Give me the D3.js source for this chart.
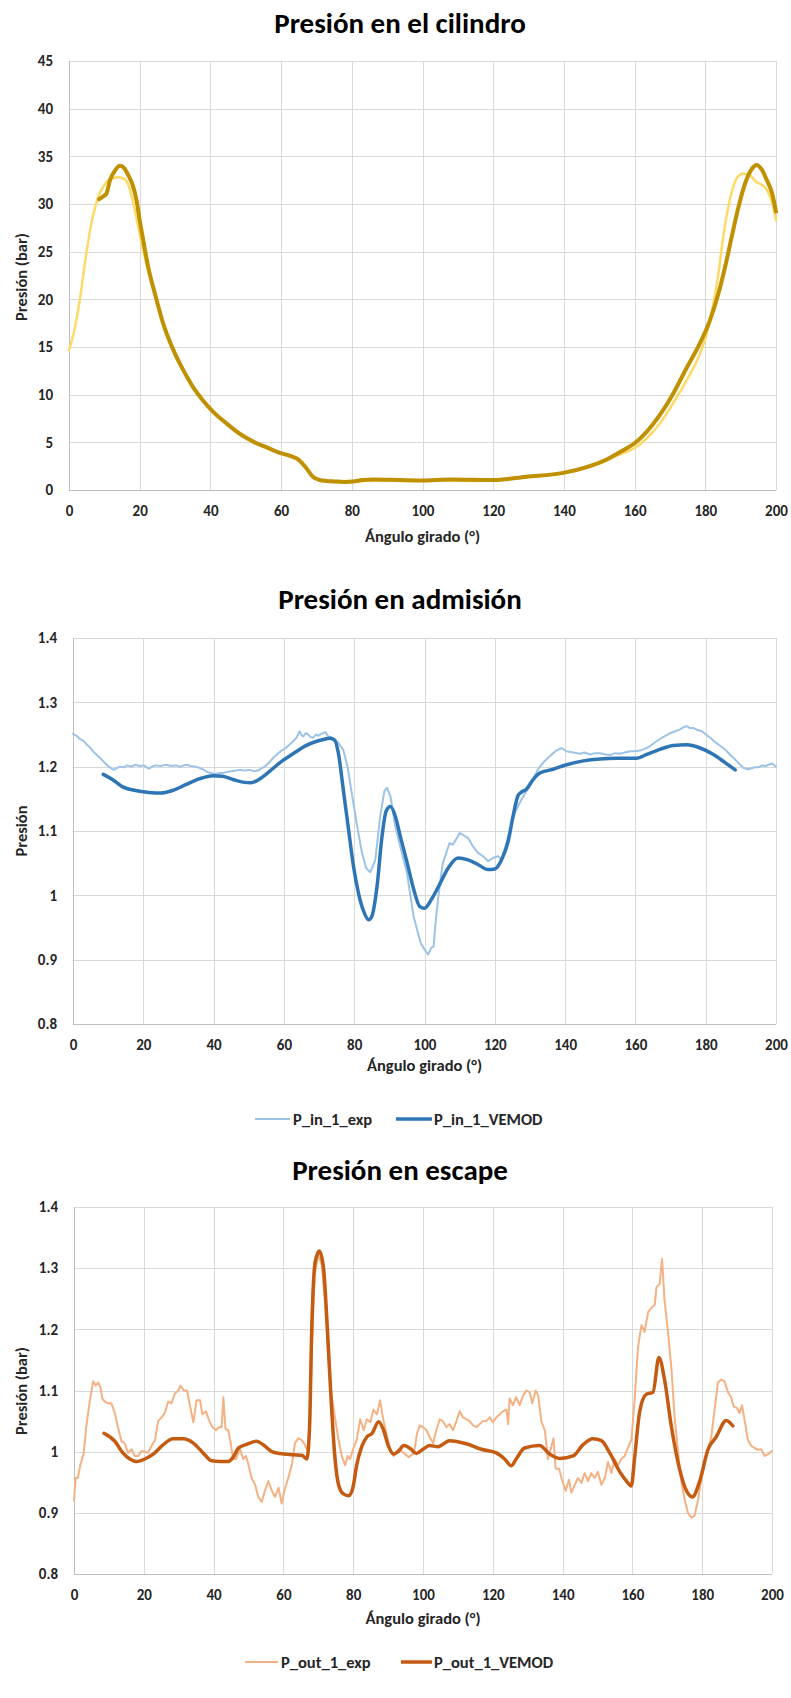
<!DOCTYPE html>
<html>
<head>
<meta charset="utf-8">
<script src="https://cdn.jsdelivr.net/npm/d3@7"></script>
<style>
  html, body { margin: 0; padding: 0; background: #ffffff; }
  svg { display: block; }
</style>
</head>
<body>
<svg id="fig" width="791" height="1698"></svg>
<script>
// ---- Cylinder pressure (bar) vs crank angle (°) ----
const cylExp = [
  [0,14.7],[0.8,15.7],[1.7,17.1],[2.6,18.9],[3.6,21.3],[4.5,23.8],[5.5,26.2],[6.4,28.1],[7.3,29.5],[8.3,30.8],
  [9.7,31.8],[11.1,32.5],[12.5,32.7],[13.9,32.8],[15.3,32.7],[16.8,32.0],[17.7,30.9],[18.6,29.4],[19.6,27.6],[20.5,25.9],
  [22,23.6],[24,20.8],[26.5,17.6],[29.5,14.6],[32.3,12.5],[35,10.8],[38,9.3],[41,8.1],[44.5,7.0],[48.3,5.9],
  [52,5.1],[55.8,4.4],[59.6,3.9],[62.4,3.5],[65.2,3.1],[67,2.3],[69,1.4],[71,1.0],[73,0.9],[76,0.8],
  [79,0.8],[82,0.9],[85,1.0],[90,1.0],[95,0.95],[100,0.95],[105,1.0],[110,1.0],[115,0.95],[120,1.0],
  [125,1.15],[130,1.35],[135,1.55],[140,1.75],[145,2.15],[150,2.75],[155,3.6],[160,4.4],[163.4,5.4],[167.2,7.0],
  [170.9,9.1],[174.7,11.5],[178.5,14.3],[180.4,16.4],[182.3,19.6],[183.7,22.7],[185.1,26.6],[186.5,29.7],[187.9,31.8],[189.3,32.9],
  [190.8,33.2],[192.6,33.0],[194.5,32.3],[196,32.0],[197.4,31.5],[198.9,30.1],[200,28.3]
];
const cylVemod = [
  [8.5,30.5],[9.7,30.8],[10.6,31.1],[11.6,32.5],[13,33.5],[14.4,34.0],[15.5,33.8],[16.8,33.0],[18,32.0],[19.1,30.4],
  [20,28.3],[21,26.2],[22.4,23.4],[24.3,20.6],[26.6,17.5],[29.5,14.7],[32.3,12.6],[35.1,10.8],[37.9,9.4],[40.8,8.2],
  [44.5,7.0],[48.3,5.9],[52,5.1],[55.8,4.5],[59.6,3.9],[62.4,3.6],[65.2,3.1],[67.1,2.3],[69,1.4],[70.9,1.05],
  [72.8,0.95],[75,0.9],[78,0.85],[80.3,0.9],[83.1,1.05],[86,1.1],[93.5,1.05],[100,1.0],[107.7,1.1],[120,1.05],
  [129.4,1.4],[139.8,1.8],[146.4,2.4],[152.1,3.2],[156.9,4.2],[160,4.9],[163.4,6.1],[167.2,7.9],[170.9,10.1],[174.7,12.8],
  [178.5,15.4],[181.3,17.8],[183.7,20.6],[185.6,23.4],[187.5,26.6],[189.4,29.7],[191.3,32.2],[193.2,33.7],[194.5,34.1],[196,33.6],
  [197.4,32.5],[198.9,31.1],[200,29.2]
];

// ---- Intake pressure ----
const inExp = [
  [0,1.251],[1,1.248],[2,1.243],[3,1.240],[4,1.234],[5,1.229],[6,1.222],[7,1.217],[8,1.212],[9,1.206],
  [10,1.201],[11,1.197],[11.6,1.195],[12.5,1.198],[13.5,1.200],[14.5,1.199],[15.4,1.202],[16.5,1.200],[17.8,1.203],[19,1.201],
  [20.2,1.202],[21,1.199],[21.6,1.197],[22.5,1.200],[23.5,1.202],[25,1.201],[26.4,1.203],[28,1.201],[29.3,1.202],[30.5,1.200],
  [32.1,1.203],[33.5,1.201],[35,1.200],[36,1.198],[36.9,1.196],[38,1.192],[38.8,1.191],[40,1.189],[40.7,1.189],[42,1.190],
  [42.6,1.190],[44,1.192],[45,1.193],[46.5,1.194],[47.4,1.195],[49,1.194],[50.2,1.195],[51.5,1.193],[52.6,1.194],[53.5,1.197],
  [54.5,1.200],[55.7,1.206],[56.9,1.213],[58,1.219],[59.3,1.225],[60.5,1.229],[61.7,1.235],[62.7,1.240],[63.6,1.245],[64,1.250],
  [64.5,1.255],[65,1.249],[65.5,1.247],[66.2,1.252],[66.9,1.250],[67.6,1.246],[68.4,1.245],[69.1,1.250],[69.8,1.248],[70.5,1.251],
  [71.2,1.252],[71.8,1.254],[72.6,1.247],[73.3,1.246],[74.1,1.243],[75.5,1.237],[76.9,1.226],[78.1,1.200],[79.3,1.159],[80.7,1.112],
  [82.2,1.066],[83.4,1.042],[84.6,1.036],[86,1.055],[87.4,1.123],[88.6,1.162],[89.3,1.167],[90.3,1.154],[91.7,1.107],[93.1,1.076],
  [95,1.035],[96.9,0.967],[98.9,0.926],[100,0.916],[101,0.908],[101.9,0.918],[102.6,0.921],[103.3,0.967],[104.3,1.014],[105.2,1.050],
  [106.2,1.066],[107.1,1.081],[108.1,1.079],[109,1.087],[110,1.097],[110.9,1.094],[112.4,1.089],[113.8,1.076],[115.2,1.066],[116.6,1.061],
  [118.1,1.053],[119.5,1.058],[120.9,1.061],[121.9,1.055],[123.3,1.081],[124.7,1.112],[126.1,1.133],[127.6,1.149],[129,1.162],[130.9,1.180],
  [132.3,1.196],[133.7,1.206],[135.6,1.216],[137.5,1.225],[139,1.229],[140.4,1.224],[142.3,1.222],[144.2,1.220],[145.5,1.222],[147.1,1.219],
  [148.5,1.221],[149.9,1.221],[151.5,1.219],[152.8,1.218],[154.2,1.221],[155.6,1.220],[157,1.222],[158.5,1.224],[160,1.224],[161.3,1.225],
  [162.8,1.228],[164.2,1.232],[165.6,1.238],[167,1.243],[168.5,1.248],[169.9,1.252],[171.3,1.255],[172.7,1.258],[173.6,1.261],[174.6,1.263],
  [175.5,1.260],[176.5,1.260],[177.7,1.257],[178.9,1.255],[180.1,1.250],[181.3,1.245],[182.5,1.239],[183.7,1.234],[185,1.229],[186,1.224],
  [187.2,1.217],[188.4,1.211],[189.6,1.204],[190.8,1.198],[192.2,1.196],[193.2,1.198],[194.1,1.199],[195,1.199],[196,1.202],[197,1.201],
  [197.9,1.203],[198.9,1.205],[200,1.200]
];
const inVemod = [
  [8.6,1.188],[11.2,1.180],[14,1.169],[17.8,1.163],[21.6,1.160],[25,1.159],[28.3,1.163],[32.1,1.172],[35.9,1.181],[39.8,1.186],
  [42.6,1.185],[45.5,1.180],[48.3,1.176],[50.7,1.175],[53.1,1.181],[56,1.193],[58.8,1.206],[62.6,1.220],[66.4,1.233],[70.3,1.241],
  [73.1,1.244],[74.5,1.241],[75.5,1.221],[76.9,1.164],[78.4,1.102],[79.8,1.045],[81.2,1.004],[82.7,0.975],[84.1,0.962],[85,0.967],
  [86.5,1.014],[87.9,1.091],[89.1,1.131],[90.3,1.138],[91.7,1.123],[93.1,1.092],[95,1.052],[96.9,1.010],[98.6,0.983],[100,0.980],
  [101.9,0.993],[104.3,1.017],[106.7,1.042],[109.5,1.058],[112.4,1.055],[115.2,1.048],[118.1,1.040],[120,1.041],[121.9,1.055],[123.8,1.084],
  [125.2,1.123],[126.6,1.155],[127.5,1.160],[129,1.165],[130.9,1.180],[132.8,1.190],[136.6,1.196],[140.4,1.203],[145.2,1.209],[149.9,1.212],
  [154.7,1.213],[160.4,1.213],[163.2,1.219],[167,1.227],[170.8,1.233],[174.6,1.234],[178.4,1.229],[182.2,1.219],[185.6,1.206],[188.4,1.195]
];

// ---- Exhaust pressure (bar) ----
const outExp = [
  [0,0.920],[0.5,0.957],[1.1,0.957],[1.8,0.978],[2.8,0.998],[3.5,1.040],[4.5,1.082],[5.5,1.115],[6.2,1.108],[6.9,1.113],
  [7.6,1.105],[8.1,1.087],[8.8,1.082],[9.8,1.079],[10.7,1.079],[11.7,1.063],[12.6,1.040],[13.6,1.017],[14.5,1.014],[15.5,0.998],
  [16.5,1.004],[17.4,0.993],[18.4,0.993],[19.3,1.001],[20.3,1.000],[21.2,0.998],[22.2,1.009],[23.2,1.019],[24.1,1.050],[25.1,1.056],
  [26,1.063],[27,1.082],[27.9,1.079],[28.9,1.095],[29.9,1.100],[30.5,1.108],[31.5,1.100],[32.4,1.100],[33.2,1.076],[34.2,1.048],
  [35.1,1.084],[36.1,1.084],[36.8,1.061],[37.8,1.066],[38.8,1.050],[39.7,1.040],[40.7,1.035],[41.6,1.040],[42.3,1.040],[42.8,1.089],
  [43.4,1.037],[44.2,1.035],[44.9,1.014],[45.6,0.988],[46.4,0.988],[47.6,1.004],[48.5,0.988],[49.3,0.993],[50,0.978],[50.9,0.957],
  [51.9,0.946],[52.8,0.926],[53.8,0.918],[54.7,0.936],[55.7,0.952],[56.7,0.936],[57.6,0.926],[58.6,0.941],[59.5,0.915],[60.5,0.941],
  [61.4,0.957],[62.4,0.978],[63.3,1.014],[64.3,1.022],[65.2,1.019],[66.2,1.011],[67,1.000],[67.6,1.050],[68.2,1.180],[69,1.290],
  [70,1.322],[71,1.305],[72,1.240],[72.8,1.160],[73.6,1.100],[74.5,1.066],[75.8,1.019],[76.7,0.993],[77.7,0.978],[78.4,0.993],
  [79.1,0.988],[80.1,1.006],[81,1.019],[82,1.053],[83,1.035],[83.9,1.053],[84.9,1.048],[85.8,1.069],[86.8,1.061],[87.7,1.084],
  [88.5,1.056],[89.5,1.030],[90.6,1.004],[91.6,0.993],[93,1.004],[94.5,0.998],[95.9,0.991],[97.4,0.998],[98.3,1.030],[99.1,1.043],
  [100,1.040],[101,1.035],[101.9,1.024],[102.9,1.014],[103.8,1.035],[104.8,1.053],[105.7,1.050],[106.7,1.040],[107.6,1.045],[108.6,1.035],
  [109.6,1.050],[110.5,1.066],[111.5,1.056],[112.4,1.053],[113.4,1.050],[114.3,1.043],[115.3,1.040],[116.2,1.045],[117.2,1.050],[118.1,1.050],
  [119.1,1.056],[120.1,1.048],[121,1.056],[122,1.061],[122.9,1.066],[123.9,1.069],[124.4,1.045],[124.8,1.087],[125.8,1.076],[126.7,1.089],
  [127.7,1.076],[128.7,1.092],[129.6,1.100],[130.6,1.097],[131.3,1.079],[132.3,1.100],[133,1.092],[133.9,1.050],[134.9,1.035],[135.8,0.988],
  [136.8,1.009],[137.4,1.022],[138,0.972],[139,0.972],[139.9,0.952],[140.9,0.936],[141.8,0.954],[142.5,0.933],[143.5,0.946],[144.4,0.957],
  [145.4,0.949],[146.3,0.965],[147.3,0.952],[148.2,0.965],[149.2,0.957],[150.1,0.967],[151.1,0.946],[152.1,0.957],[153,0.983],[154,0.965],
  [154.9,0.988],[155.9,0.978],[156.8,0.988],[157.8,0.993],[158.7,1.006],[159.7,1.019],[160.6,1.082],[161.6,1.170],[162.6,1.207],[163.5,1.196],
  [164.5,1.228],[165.4,1.235],[166.4,1.240],[166.9,1.269],[167.8,1.274],[168.5,1.315],[169.2,1.248],[170.2,1.196],[171.2,1.134],[172.1,1.056],
  [173.1,0.998],[174,0.952],[175,0.921],[175.9,0.900],[176.9,0.892],[177.8,0.895],[178.8,0.921],[179.8,0.957],[180.7,0.983],[181.7,1.004],
  [182.6,1.024],[183.6,1.071],[184.5,1.113],[185.5,1.118],[186.4,1.115],[187.4,1.097],[188.3,1.089],[189,1.074],[190,1.071],[190.7,1.063],
  [191.4,1.076],[192.2,1.050],[193.1,1.019],[194.1,1.009],[195,1.006],[196,1.003],[196.9,1.004],[197.9,0.993],[198.9,0.996],[200,1.001]
];
const outVemod = [
  [8.6,1.030],[11.7,1.017],[14,0.998],[16,0.988],[17.9,0.984],[20.3,0.988],[22.7,0.996],[25.5,1.011],[28.4,1.021],[31.3,1.021],
  [34.2,1.014],[37,0.998],[39.4,0.985],[41.8,0.984],[44.2,0.984],[45.6,0.991],[47.1,1.006],[49.5,1.012],[52.3,1.017],[54.3,1.011],
  [56.7,1.000],[59,0.997],[62.9,0.995],[65.3,0.994],[66.7,0.988],[67.5,1.040],[68.1,1.196],[69.1,1.310],[70.3,1.328],[71.5,1.300],
  [72.4,1.222],[73.6,1.092],[74.8,0.988],[75.8,0.946],[77.2,0.931],[78.7,0.928],[79.9,0.941],[81,0.978],[82.5,1.009],[83.9,1.024],
  [85.4,1.030],[87.3,1.049],[88.7,1.035],[90.1,1.009],[91.6,0.996],[93,1.001],[94.5,1.010],[96.4,1.005],[98.1,0.997],[100,1.004],
  [101.9,1.010],[104.3,1.008],[107.6,1.018],[112.4,1.013],[116.7,1.004],[121,0.998],[123.4,0.988],[125.3,0.977],[126.7,0.988],[129.1,1.006],
  [133.4,1.010],[136.3,0.996],[139.2,0.989],[143,0.993],[145.8,1.011],[148.7,1.021],[151.1,1.018],[153.5,0.998],[156.4,0.967],[158.3,0.952],
  [159.7,0.944],[160.6,0.988],[162.1,1.066],[164,1.094],[165.9,1.097],[167.6,1.154],[169.2,1.118],[171.2,1.040],[173.5,0.972],[175.5,0.936],
  [177.2,0.926],[179.3,0.952],[181.7,1.004],[184,1.024],[186.9,1.051],[188.8,1.042]
];

// shared axis ticks
const angleTicks = [0, 20, 40, 60, 80, 100, 120, 140, 160, 180, 200];
const cylTicks = [0, 5, 10, 15, 20, 25, 30, 35, 40, 45];
const pipeTicks = [0.8, 0.9, 1.0, 1.1, 1.2, 1.3, 1.4];

const FONT = "Carlito, Lato, 'Open Sans', sans-serif";
const TEXT = "#262626";
const svg = d3.select("#fig");

const charts = [
  {
    title: "Presión en el cilindro", titleY: 23,
    yLabel: "Presión (bar)", yLabelCy: 277,
    left: 69, right: 776, top: 61, bottom: 490,
    yDomain: [0, 45], yTicks: cylTicks, xTitleY: 536,
    series: [
      { name: "P_cyl_exp", data: cylExp, color: "#FFD966", width: 2.5, curve: d3.curveMonotoneX },
      { name: "P_cyl_VEMOD", data: cylVemod, color: "#BF9000", width: 4, curve: d3.curveMonotoneX }
    ],
    legend: null
  },
  {
    title: "Presión en admisión", titleY: 599,
    yLabel: "Presión", yLabelCy: 831,
    left: 73, right: 776, top: 638, bottom: 1024,
    yDomain: [0.8, 1.4], yTicks: pipeTicks, xTitleY: 1065,
    series: [
      { name: "P_in_1_exp", data: inExp, color: "#9DC3E6", width: 2, curve: d3.curveLinear },
      { name: "P_in_1_VEMOD", data: inVemod, color: "#2E75B6", width: 3.5, curve: d3.curveMonotoneX }
    ],
    legend: { y: 1119, items: [[255, 290, 293], [396, 432, 434]] }
  },
  {
    title: "Presión en escape", titleY: 1170,
    yLabel: "Presión (bar)", yLabelCy: 1391,
    left: 74, right: 772, top: 1207, bottom: 1574,
    yDomain: [0.8, 1.4], yTicks: pipeTicks, xTitleY: 1618,
    series: [
      { name: "P_out_1_exp", data: outExp, color: "#F4B183", width: 2, curve: d3.curveLinear },
      { name: "P_out_1_VEMOD", data: outVemod, color: "#C55A11", width: 3.5, curve: d3.curveMonotoneX }
    ],
    legend: { y: 1662, items: [[245, 278, 281], [401, 432, 434]] }
  }
];

const numFmt = d3.format("~g");

charts.forEach(c => {
  const g = svg.append("g");
  const x = d3.scaleLinear().domain([0, 200]).range([c.left, c.right]);
  const y = d3.scaleLinear().domain(c.yDomain).range([c.bottom, c.top]);

  // gridlines
  g.append("g").selectAll("line").data(angleTicks).join("line")
    .attr("x1", d => Math.round(x(d)) + 0.5).attr("x2", d => Math.round(x(d)) + 0.5)
    .attr("y1", c.top).attr("y2", c.bottom)
    .attr("stroke", "#D9D9D9").attr("stroke-width", 1);
  g.append("g").selectAll("line").data(c.yTicks).join("line")
    .attr("x1", c.left).attr("x2", c.right)
    .attr("y1", d => Math.round(y(d)) + 0.5).attr("y2", d => Math.round(y(d)) + 0.5)
    .attr("stroke", "#D9D9D9").attr("stroke-width", 1);

  // axis lines
  g.append("line").attr("x1", c.left + 0.5).attr("x2", c.left + 0.5)
    .attr("y1", c.top).attr("y2", c.bottom + 0.5).attr("stroke", "#BFBFBF");
  g.append("line").attr("x1", c.left).attr("x2", c.right)
    .attr("y1", c.bottom + 0.5).attr("y2", c.bottom + 0.5).attr("stroke", "#BFBFBF");

  // tick labels
  const xa = g.append("g").attr("transform", `translate(0,${c.bottom})`)
    .call(d3.axisBottom(x).tickValues(angleTicks).tickSize(0).tickPadding(15).tickFormat(numFmt));
  const ya = g.append("g").attr("transform", `translate(${c.left},0)`)
    .call(d3.axisLeft(y).tickValues(c.yTicks).tickSize(0).tickPadding(16).tickFormat(numFmt));
  [xa, ya].forEach(a => {
    a.select(".domain").remove();
    a.selectAll("text").attr("font-family", FONT).attr("font-size", 15)
      .attr("font-weight", "bold").attr("fill", TEXT);
  });

  // series
  c.series.forEach(s => {
    const line = d3.line().x(d => x(d[0])).y(d => y(d[1])).curve(s.curve);
    g.append("path").datum(s.data)
      .attr("d", line).attr("fill", "none")
      .attr("stroke", s.color).attr("stroke-width", s.width)
      .attr("stroke-linejoin", "round").attr("stroke-linecap", "round");
  });

  // title
  g.append("text").attr("x", 400).attr("y", c.titleY)
    .attr("text-anchor", "middle").attr("dominant-baseline", "central")
    .attr("font-family", FONT).attr("font-size", 29).attr("font-weight", "bold")
    .attr("fill", "#000").text(c.title);

  // axis titles
  g.append("text").attr("x", (c.left + c.right) / 2).attr("y", c.xTitleY)
    .attr("text-anchor", "middle").attr("dominant-baseline", "central")
    .attr("font-family", FONT).attr("font-size", 16.5).attr("font-weight", "bold")
    .attr("fill", TEXT).text("Ángulo girado (°)");
  g.append("text")
    .attr("transform", `translate(21,${c.yLabelCy}) rotate(-90)`)
    .attr("text-anchor", "middle").attr("dominant-baseline", "central")
    .attr("font-family", FONT).attr("font-size", 16.5).attr("font-weight", "bold")
    .attr("fill", TEXT).text(c.yLabel);

  // legend
  if (c.legend) {
    c.series.forEach((s, i) => {
      const [x1, x2, tx] = c.legend.items[i];
      g.append("line").attr("x1", x1).attr("x2", x2)
        .attr("y1", c.legend.y).attr("y2", c.legend.y)
        .attr("stroke", s.color).attr("stroke-width", s.width);
      g.append("text").attr("x", tx).attr("y", c.legend.y)
        .attr("dominant-baseline", "central")
        .attr("font-family", FONT).attr("font-size", 16.5).attr("font-weight", "bold")
        .attr("fill", TEXT).text(s.name);
    });
  }
});
</script>
</body>
</html>
